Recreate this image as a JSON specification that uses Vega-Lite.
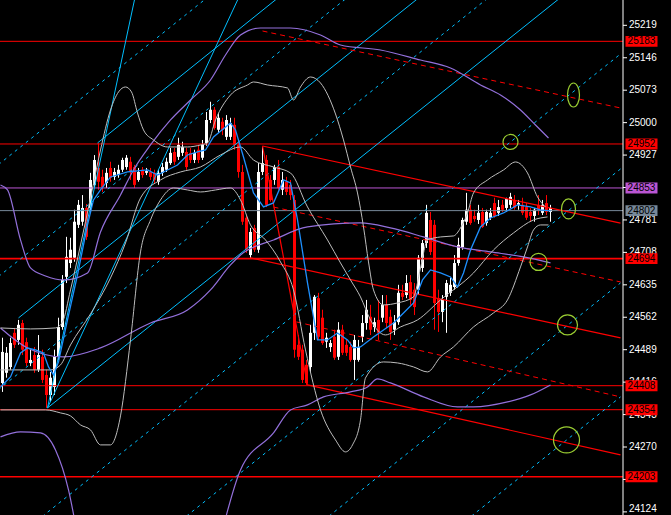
{
"$schema": "https://vega.github.io/schema/vega-lite/v6.json",
"width": 623, "height": 515, "padding": {"left": 0, "top": 0, "right": 48, "bottom": 0}, "autosize": {"type": "none"},
"background": "#000000",
"config": {"view": {"stroke": null}},
"datasets": {
"candles": [
{"k":0,"o":24414,"h":24516,"l":24394,"c":24484},{"k":1,"o":24437,"h":24495,"l":24426,"c":24482},{"k":2,"o":24450,"h":24516,"l":24444,"c":24504},{"k":3,"o":24527,"h":24538,"l":24493,"c":24500},{"k":4,"o":24511,"h":24556,"l":24500,"c":24545},{"k":5,"o":24549,"h":24556,"l":24477,"c":24489},{"k":6,"o":24506,"h":24516,"l":24452,"c":24459},{"k":7,"o":24459,"h":24489,"l":24452,"c":24466},{"k":8,"o":24477,"h":24495,"l":24437,"c":24444},{"k":9,"o":24444,"h":24522,"l":24439,"c":24477},
{"k":10,"o":24473,"h":24489,"l":24414,"c":24421},{"k":11,"o":24432,"h":24444,"l":24358,"c":24387},{"k":12,"o":24387,"h":24439,"l":24372,"c":24426},{"k":13,"o":24405,"h":24489,"l":24387,"c":24473},{"k":14,"o":24473,"h":24561,"l":24466,"c":24540},{"k":15,"o":24540,"h":24657,"l":24534,"c":24646},{"k":16,"o":24653,"h":24743,"l":24639,"c":24698},{"k":17,"o":24684,"h":24741,"l":24673,"c":24714},{"k":18,"o":24696,"h":24804,"l":24687,"c":24777},{"k":19,"o":24770,"h":24826,"l":24763,"c":24815},
{"k":20,"o":24777,"h":24837,"l":24768,"c":24808},{"k":21,"o":24808,"h":24817,"l":24736,"c":24743},{"k":22,"o":24808,"h":24887,"l":24799,"c":24871},{"k":23,"o":24860,"h":24927,"l":24853,"c":24916},{"k":24,"o":24898,"h":24954,"l":24849,"c":24867},{"k":25,"o":24878,"h":24894,"l":24844,"c":24855},{"k":26,"o":24864,"h":24898,"l":24853,"c":24887},{"k":27,"o":24898,"h":24912,"l":24867,"c":24876},{"k":28,"o":24878,"h":24898,"l":24871,"c":24889},{"k":29,"o":24882,"h":24905,"l":24876,"c":24894},
{"k":30,"o":24894,"h":24921,"l":24889,"c":24916},{"k":31,"o":24900,"h":24927,"l":24894,"c":24921},{"k":32,"o":24912,"h":24923,"l":24871,"c":24889},{"k":33,"o":24900,"h":24905,"l":24853,"c":24860},{"k":34,"o":24871,"h":24898,"l":24867,"c":24889},{"k":35,"o":24894,"h":24900,"l":24876,"c":24882},{"k":36,"o":24887,"h":24898,"l":24882,"c":24891},{"k":37,"o":24889,"h":24898,"l":24871,"c":24878},{"k":38,"o":24887,"h":24894,"l":24864,"c":24871},{"k":39,"o":24867,"h":24894,"l":24860,"c":24887},
{"k":40,"o":24887,"h":24909,"l":24880,"c":24900},{"k":41,"o":24894,"h":24921,"l":24889,"c":24912},{"k":42,"o":24909,"h":24943,"l":24905,"c":24932},{"k":43,"o":24934,"h":24943,"l":24905,"c":24912},{"k":44,"o":24923,"h":24966,"l":24916,"c":24950},{"k":45,"o":24932,"h":24957,"l":24925,"c":24945},{"k":46,"o":24934,"h":24943,"l":24894,"c":24900},{"k":47,"o":24932,"h":24943,"l":24909,"c":24916},{"k":48,"o":24916,"h":24939,"l":24909,"c":24932},{"k":49,"o":24939,"h":24950,"l":24909,"c":24916},
{"k":50,"o":24921,"h":24961,"l":24916,"c":24950},{"k":51,"o":24954,"h":25024,"l":24948,"c":25006},{"k":52,"o":25006,"h":25047,"l":24999,"c":25029},{"k":53,"o":25029,"h":25035,"l":24984,"c":24988},{"k":54,"o":24984,"h":25022,"l":24977,"c":25011},{"k":55,"o":25002,"h":25011,"l":24972,"c":24984},{"k":56,"o":24968,"h":25017,"l":24961,"c":25006},{"k":57,"o":24968,"h":25011,"l":24961,"c":24999},{"k":58,"o":24995,"h":25011,"l":24939,"c":24950},{"k":59,"o":24950,"h":24961,"l":24876,"c":24889},
{"k":60,"o":24889,"h":24905,"l":24770,"c":24777},{"k":61,"o":24786,"h":24792,"l":24707,"c":24714},{"k":62,"o":24702,"h":24763,"l":24696,"c":24754},{"k":63,"o":24763,"h":24770,"l":24709,"c":24714},{"k":64,"o":24714,"h":24909,"l":24707,"c":24889},{"k":65,"o":24889,"h":24945,"l":24882,"c":24909},{"k":66,"o":24916,"h":24927,"l":24810,"c":24815},{"k":67,"o":24871,"h":24882,"l":24822,"c":24826},{"k":68,"o":24871,"h":24905,"l":24860,"c":24900},{"k":69,"o":24900,"h":24916,"l":24849,"c":24853},
{"k":70,"o":24849,"h":24889,"l":24837,"c":24871},{"k":71,"o":24867,"h":24878,"l":24837,"c":24844},{"k":72,"o":24860,"h":24871,"l":24826,"c":24837},{"k":73,"o":24826,"h":24837,"l":24471,"c":24489},{"k":74,"o":24500,"h":24522,"l":24466,"c":24473},{"k":75,"o":24489,"h":24500,"l":24414,"c":24421},{"k":76,"o":24455,"h":24466,"l":24410,"c":24414},{"k":77,"o":24450,"h":24545,"l":24439,"c":24527},{"k":78,"o":24527,"h":24612,"l":24511,"c":24608},{"k":79,"o":24605,"h":24617,"l":24511,"c":24518},
{"k":80,"o":24561,"h":24579,"l":24500,"c":24504},{"k":81,"o":24507,"h":24527,"l":24493,"c":24516},{"k":82,"o":24495,"h":24511,"l":24484,"c":24504},{"k":83,"o":24518,"h":24534,"l":24466,"c":24471},{"k":84,"o":24473,"h":24551,"l":24466,"c":24534},{"k":85,"o":24534,"h":24545,"l":24477,"c":24482},{"k":86,"o":24500,"h":24511,"l":24475,"c":24482},{"k":87,"o":24495,"h":24507,"l":24462,"c":24466},{"k":88,"o":24466,"h":24522,"l":24421,"c":24511},{"k":89,"o":24466,"h":24511,"l":24462,"c":24495},
{"k":90,"o":24518,"h":24567,"l":24506,"c":24549},{"k":91,"o":24549,"h":24601,"l":24534,"c":24579},{"k":92,"o":24563,"h":24590,"l":24522,"c":24534},{"k":93,"o":24540,"h":24561,"l":24529,"c":24551},{"k":94,"o":24556,"h":24601,"l":24511,"c":24527},{"k":95,"o":24561,"h":24612,"l":24551,"c":24590},{"k":96,"o":24590,"h":24612,"l":24538,"c":24549},{"k":97,"o":24563,"h":24579,"l":24511,"c":24529},{"k":98,"o":24534,"h":24567,"l":24522,"c":24551},{"k":99,"o":24551,"h":24635,"l":24545,"c":24617},
{"k":100,"o":24617,"h":24635,"l":24601,"c":24608},{"k":101,"o":24612,"h":24657,"l":24605,"c":24639},{"k":102,"o":24641,"h":24657,"l":24590,"c":24601},{"k":103,"o":24624,"h":24639,"l":24567,"c":24585},{"k":104,"o":24624,"h":24702,"l":24612,"c":24696},{"k":105,"o":24673,"h":24736,"l":24664,"c":24729},{"k":106,"o":24729,"h":24815,"l":24718,"c":24797},{"k":107,"o":24781,"h":24799,"l":24702,"c":24709},{"k":108,"o":24770,"h":24781,"l":24534,"c":24594},{"k":109,"o":24605,"h":24624,"l":24529,"c":24574},
{"k":110,"o":24574,"h":24612,"l":24551,"c":24601},{"k":111,"o":24608,"h":24646,"l":24527,"c":24639},{"k":112,"o":24617,"h":24651,"l":24610,"c":24635},{"k":113,"o":24630,"h":24702,"l":24624,"c":24684},{"k":114,"o":24684,"h":24741,"l":24678,"c":24725},{"k":115,"o":24720,"h":24786,"l":24714,"c":24781},{"k":116,"o":24777,"h":24842,"l":24770,"c":24804},{"k":117,"o":24804,"h":24815,"l":24770,"c":24774},{"k":118,"o":24790,"h":24804,"l":24777,"c":24783},{"k":119,"o":24781,"h":24815,"l":24772,"c":24797},
{"k":120,"o":24799,"h":24808,"l":24763,"c":24765},{"k":121,"o":24774,"h":24804,"l":24768,"c":24799},{"k":122,"o":24786,"h":24808,"l":24781,"c":24797},{"k":123,"o":24819,"h":24831,"l":24786,"c":24790},{"k":124,"o":24797,"h":24826,"l":24790,"c":24810},{"k":125,"o":24815,"h":24826,"l":24799,"c":24804},{"k":126,"o":24808,"h":24831,"l":24799,"c":24828},{"k":127,"o":24815,"h":24842,"l":24808,"c":24833},{"k":128,"o":24826,"h":24837,"l":24804,"c":24808},{"k":129,"o":24815,"h":24826,"l":24804,"c":24819},
{"k":130,"o":24815,"h":24831,"l":24792,"c":24797},{"k":131,"o":24810,"h":24819,"l":24781,"c":24786},{"k":132,"o":24799,"h":24808,"l":24777,"c":24790},{"k":133,"o":24790,"h":24808,"l":24777,"c":24804},{"k":134,"o":24815,"h":24837,"l":24792,"c":24804},{"k":135,"o":24797,"h":24826,"l":24792,"c":24815},{"k":136,"o":24819,"h":24837,"l":24792,"c":24799},{"k":137,"o":24799,"h":24815,"l":24777,"c":24808}
],
"hlRed": [{"k":-1,"k2":155.125,"p":25183},{"k":-1,"k2":155.125,"p":24952},{"k":-1,"k2":155.125,"p":24408},{"k":-1,"k2":155.125,"p":24354}],
"hlRedThick": [{"k":-1,"k2":155.125,"p":24694},{"k":-1,"k2":155.125,"p":24203}],
"hlPurple": [{"k":-1,"k2":155.125,"p":24853}],
"hlGray": [{"k":-1,"k2":155.125,"p":24802}],
"axisLine": [{"k":155.125,"p":24117,"p2":25276}],
"ticks": [
{"k":155.125,"k2":156.125,"p":25219},{"k":155.125,"k2":156.125,"p":25146},{"k":155.125,"k2":156.125,"p":25073},{"k":155.125,"k2":156.125,"p":25000},{"k":155.125,"k2":156.125,"p":24927},{"k":155.125,"k2":156.125,"p":24854},{"k":155.125,"k2":156.125,"p":24781},{"k":155.125,"k2":156.125,"p":24708},
{"k":155.125,"k2":156.125,"p":24635},{"k":155.125,"k2":156.125,"p":24562},{"k":155.125,"k2":156.125,"p":24489},{"k":155.125,"k2":156.125,"p":24416},{"k":155.125,"k2":156.125,"p":24343},{"k":155.125,"k2":156.125,"p":24270},{"k":155.125,"k2":156.125,"p":24197},{"k":155.125,"k2":156.125,"p":24124}
],
"tickLabels": [
{"k":156.6,"p":25219,"t":"25219"},{"k":156.6,"p":25146,"t":"25146"},{"k":156.6,"p":25073,"t":"25073"},{"k":156.6,"p":25000,"t":"25000"},{"k":156.6,"p":24927,"t":"24927"},{"k":156.6,"p":24854,"t":"24854"},{"k":156.6,"p":24781,"t":"24781"},{"k":156.6,"p":24708,"t":"24708"},
{"k":156.6,"p":24635,"t":"24635"},{"k":156.6,"p":24562,"t":"24562"},{"k":156.6,"p":24489,"t":"24489"},{"k":156.6,"p":24416,"t":"24416"},{"k":156.6,"p":24343,"t":"24343"},{"k":156.6,"p":24270,"t":"24270"},{"k":156.6,"p":24197,"t":"24197"}
],
"tickLabelLast": [{"k":156.6,"p":24124,"t":"24124"}],
"lbRed": [{"k":159.75,"p":25183,"t":"25183"},{"k":159.75,"p":24952,"t":"24952"},{"k":159.75,"p":24694,"t":"24694"},{"k":159.75,"p":24408,"t":"24408"},{"k":159.75,"p":24354,"t":"24354"},{"k":159.75,"p":24203,"t":"24203"}],
"lbPurple": [{"k":159.75,"p":24853,"t":"24853"}],
"lbGray": [{"k":159.75,"p":24802,"t":"24802"}],
"cyanSolid": [
{"id":"f1","k":11.25,"p":24358},{"id":"f1","k":35.65,"p":25388.5},
{"id":"f2","k":11.25,"p":24358},{"id":"f2","k":64.6,"p":25388.5},
{"id":"c1","k":11.25,"p":24358},{"id":"c1","k":154.5,"p":25389.4},
{"id":"c2","k":4,"p":24560.5},{"id":"c2","k":119,"p":25388.5},
{"id":"c3","k":23.75,"p":24954.25},{"id":"c3","k":83.75,"p":25388.5}
],
"cyanDash": [
{"id":"d1","k":-1,"p":24905.65},{"id":"d1","k":66.06,"p":25388.5},
{"id":"d2","k":-1,"p":24653.65},{"id":"d2","k":101.06,"p":25388.5},
{"id":"d3","k":-1,"p":24399.4},{"id":"d3","k":136.375,"p":25388.5},
{"id":"d4","k":-1,"p":24034.9},{"id":"d4","k":154.5,"p":25154.5},
{"id":"d5","k":32.31,"p":24016},{"id":"d5","k":154.5,"p":24895.75},
{"id":"d6","k":67.94,"p":24016},{"id":"d6","k":154.5,"p":24639.25},
{"id":"d7","k":103.56,"p":24016},{"id":"d7","k":154.5,"p":24382.75}
],
"redSolid": [
{"id":"r1","k":65,"p":24947.5},{"id":"r1","k":154.5,"p":24774},
{"id":"r3","k":62,"p":24695.5},{"id":"r3","k":154.5,"p":24515.5},
{"id":"r5","k":76.25,"p":24409.75},{"id":"r5","k":154.5,"p":24252.25},
{"id":"rs","k":65,"p":24947.5},{"id":"rs","k":76.25,"p":24409.75}
],
"redDash": [
{"id":"r0","k":65,"p":25206.25},{"id":"r0","k":154.5,"p":25033},
{"id":"r2","k":67.75,"p":24810},{"id":"r2","k":154.5,"p":24641.5},
{"id":"r4","k":73.5,"p":24551.5},{"id":"r4","k":154.5,"p":24382.75}
],
"purple": [
{"id":"pu","k":-0.5,"p":24859.75},{"id":"pu","k":1.25,"p":24848.5},{"id":"pu","k":4.5,"p":24736},{"id":"pu","k":7,"p":24673},{"id":"pu","k":10.75,"p":24655},{"id":"pu","k":15.25,"p":24646},{"id":"pu","k":21.25,"p":24661.75},{"id":"pu","k":24.5,"p":24754},{"id":"pu","k":29.5,"p":24837.25},{"id":"pu","k":32.75,"p":24893.5},{"id":"pu","k":37,"p":24949.75},{"id":"pu","k":42,"p":25006},{"id":"pu","k":47,"p":25051},{"id":"pu","k":52,"p":25096},{"id":"pu","k":55.75,"p":25152.25},{"id":"pu","k":59.5,"p":25197.25},{"id":"pu","k":64.5,"p":25213},{"id":"pu","k":72,"p":25213},{"id":"pu","k":79.5,"p":25197.25},{"id":"pu","k":84.5,"p":25174.75},{"id":"pu","k":94.5,"p":25163.5},{"id":"pu","k":104.5,"p":25141},{"id":"pu","k":112,"p":25123},{"id":"pu","k":119.5,"p":25084.75},{"id":"pu","k":124.5,"p":25062.25},{"id":"pu","k":129.5,"p":25028.5},{"id":"pu","k":133.25,"p":24994.75},{"id":"pu","k":136.5,"p":24965.5},
{"id":"pm","k":-0.5,"p":24538},{"id":"pm","k":6.25,"p":24493},{"id":"pm","k":15.25,"p":24472.75},{"id":"pm","k":24.5,"p":24493},{"id":"pm","k":37,"p":24549.25},{"id":"pm","k":46.25,"p":24578.5},{"id":"pm","k":52,"p":24623.5},{"id":"pm","k":57,"p":24679.75},{"id":"pm","k":59.5,"p":24702.25},{"id":"pm","k":67.75,"p":24736},{"id":"pm","k":76.25,"p":24765.25},{"id":"pm","k":89.5,"p":24774.25},{"id":"pm","k":97,"p":24763},{"id":"pm","k":105.25,"p":24742.75},{"id":"pm","k":113.75,"p":24720.25},{"id":"pm","k":122,"p":24709},{"id":"pm","k":130.25,"p":24697.75},{"id":"pm","k":137,"p":24684.25},
{"id":"pl1","k":-0.5,"p":24292.75},{"id":"pl1","k":4.5,"p":24304},{"id":"pl1","k":9.5,"p":24301.75},{"id":"pl1","k":13.25,"p":24263.5},{"id":"pl1","k":16.5,"p":24173.5},{"id":"pl1","k":18.5,"p":24083.5},
{"id":"pl2","k":55,"p":24083.5},{"id":"pl2","k":59.5,"p":24218.5},{"id":"pl2","k":67.75,"p":24301.75},{"id":"pl2","k":72,"p":24353.5},{"id":"pl2","k":76.25,"p":24364.75},{"id":"pl2","k":80.25,"p":24382.75},{"id":"pl2","k":87,"p":24394},{"id":"pl2","k":91.25,"p":24405.25},{"id":"pl2","k":93.75,"p":24423.25},{"id":"pl2","k":97,"p":24414.25},{"id":"pl2","k":105.25,"p":24382.75},{"id":"pl2","k":113.75,"p":24360.25},{"id":"pl2","k":117.75,"p":24360.25},{"id":"pl2","k":126.25,"p":24371.5},{"id":"pl2","k":132,"p":24387.25},{"id":"pl2","k":137,"p":24409.75}
],
"gray": [
{"id":"gu","k":-0.5,"p":24538},{"id":"gu","k":7,"p":24535.75},{"id":"gu","k":13.25,"p":24538},{"id":"gu","k":15,"p":24551.5},{"id":"gu","k":17,"p":24623.5},{"id":"gu","k":19.5,"p":24724.75},{"id":"gu","k":22,"p":24830.5},{"id":"gu","k":24.5,"p":24938.5},{"id":"gu","k":27,"p":25028.5},{"id":"gu","k":29,"p":25069},{"id":"gu","k":30.75,"p":25080.25},{"id":"gu","k":32.25,"p":25069},{"id":"gu","k":33.75,"p":25021.75},{"id":"gu","k":35.25,"p":24983.5},{"id":"gu","k":37.75,"p":24961},{"id":"gu","k":41.25,"p":24945.25},{"id":"gu","k":46.25,"p":24945.25},{"id":"gu","k":49.5,"p":24949.75},{"id":"gu","k":51.25,"p":24954.25},{"id":"gu","k":53.25,"p":25006},{"id":"gu","k":57,"p":25062.25},{"id":"gu","k":61.25,"p":25084.75},{"id":"gu","k":62.75,"p":25091.5},{"id":"gu","k":66.25,"p":25084.75},{"id":"gu","k":71.25,"p":25078},{"id":"gu","k":72.75,"p":25051},{"id":"gu","k":74.5,"p":25080.25},{"id":"gu","k":77,"p":25102.75},{"id":"gu","k":79.5,"p":25089.25},{"id":"gu","k":83.25,"p":25019.5},{"id":"gu","k":85.25,"p":24961},{"id":"gu","k":87,"p":24900.25},{"id":"gu","k":88.75,"p":24841.75},{"id":"gu","k":90.25,"p":24765.25},{"id":"gu","k":91.5,"p":24686.5},{"id":"gu","k":92.75,"p":24623.5},{"id":"gu","k":95.25,"p":24589.75},{"id":"gu","k":98.75,"p":24594.25},{"id":"gu","k":102.75,"p":24607.75},{"id":"gu","k":104.5,"p":24673},{"id":"gu","k":106.25,"p":24736},{"id":"gu","k":109.5,"p":24742.75},{"id":"gu","k":112.75,"p":24745},{"id":"gu","k":114.5,"p":24763},{"id":"gu","k":116.25,"p":24796.75},{"id":"gu","k":117.75,"p":24841.75},{"id":"gu","k":121.25,"p":24871},{"id":"gu","k":125.25,"p":24893.5},{"id":"gu","k":128.25,"p":24911.5},{"id":"gu","k":131.25,"p":24886.75},{"id":"gu","k":133.75,"p":24832.75},{"id":"gu","k":135.75,"p":24810.25},
{"id":"gm","k":-0.5,"p":24443.5},{"id":"gm","k":12,"p":24443.5},{"id":"gm","k":14.5,"p":24454.75},{"id":"gm","k":17,"p":24499.75},{"id":"gm","k":22,"p":24569.5},{"id":"gm","k":27,"p":24650.5},{"id":"gm","k":30.75,"p":24729.25},{"id":"gm","k":34.5,"p":24830.5},{"id":"gm","k":39.5,"p":24871},{"id":"gm","k":44.5,"p":24889},{"id":"gm","k":49.5,"p":24900.25},{"id":"gm","k":54.5,"p":24927.25},{"id":"gm","k":59.5,"p":24945.25},{"id":"gm","k":62.75,"p":24916},{"id":"gm","k":67.75,"p":24900.25},{"id":"gm","k":72,"p":24886.75},{"id":"gm","k":76.25,"p":24810.25},{"id":"gm","k":81.25,"p":24736},{"id":"gm","k":84.5,"p":24684.25},{"id":"gm","k":87,"p":24646},{"id":"gm","k":89.5,"p":24607.75},{"id":"gm","k":92,"p":24556},{"id":"gm","k":95.75,"p":24522.25},{"id":"gm","k":99.5,"p":24540.25},{"id":"gm","k":103.75,"p":24556},{"id":"gm","k":109.5,"p":24601},{"id":"gm","k":117.75,"p":24661.75},{"id":"gm","k":122.75,"p":24713.5},{"id":"gm","k":127.75,"p":24751.75},{"id":"gm","k":132.75,"p":24781},{"id":"gm","k":136.25,"p":24787.75},
{"id":"gl","k":-0.5,"p":24353.5},{"id":"gl","k":10.75,"p":24353.5},{"id":"gl","k":14.5,"p":24346.75},{"id":"gl","k":17,"p":24340},{"id":"gl","k":19.5,"p":24319.75},{"id":"gl","k":22,"p":24308.5},{"id":"gl","k":24.5,"p":24274.75},{"id":"gl","k":27,"p":24274.75},{"id":"gl","k":29.5,"p":24340},{"id":"gl","k":32,"p":24511},{"id":"gl","k":34.5,"p":24709},{"id":"gl","k":37,"p":24781},{"id":"gl","k":39.5,"p":24826},{"id":"gl","k":42.75,"p":24853},{"id":"gl","k":46.25,"p":24848.5},{"id":"gl","k":49.5,"p":24844},{"id":"gl","k":53.25,"p":24848.5},{"id":"gl","k":57,"p":24853},{"id":"gl","k":59.5,"p":24826},{"id":"gl","k":62,"p":24769.75},{"id":"gl","k":65.75,"p":24736},{"id":"gl","k":69.5,"p":24686.5},{"id":"gl","k":72.75,"p":24623.5},{"id":"gl","k":75.75,"p":24488.5},{"id":"gl","k":79.5,"p":24353.5},{"id":"gl","k":83.25,"p":24286},{"id":"gl","k":85.75,"p":24259},{"id":"gl","k":87.5,"p":24274.75},{"id":"gl","k":89.5,"p":24331},{"id":"gl","k":90.75,"p":24425.5},{"id":"gl","k":95.25,"p":24461.5},{"id":"gl","k":98.75,"p":24459.25},{"id":"gl","k":102.75,"p":24450.25},{"id":"gl","k":106.25,"p":24439},{"id":"gl","k":109.5,"p":24472.75},{"id":"gl","k":112.75,"p":24495.25},{"id":"gl","k":117.75,"p":24540.25},{"id":"gl","k":122.75,"p":24571.75},{"id":"gl","k":126.25,"p":24601},{"id":"gl","k":129.5,"p":24675.25},{"id":"gl","k":131.25,"p":24720.25},{"id":"gl","k":132.75,"p":24758.5},{"id":"gl","k":134.5,"p":24769.75},{"id":"gl","k":136.5,"p":24769.75}
],
"ma": [
{"k":-0.5,"p":24405.25},{"k":2,"p":24427.75},{"k":4.5,"p":24481.75},{"k":6.25,"p":24493},{"k":8.25,"p":24488.5},{"k":10.25,"p":24481.75},{"k":11.5,"p":24450.25},{"k":12.75,"p":24432.25},{"k":14,"p":24461.5},{"k":16.25,"p":24556},{"k":18.75,"p":24657.25},{"k":21.25,"p":24769.75},{"k":22.75,"p":24826},{"k":24.5,"p":24848.5},{"k":27,"p":24877.75},{"k":31.25,"p":24889},{"k":36.25,"p":24893.5},{"k":38.75,"p":24882.25},{"k":41.25,"p":24893.5},{"k":43.75,"p":24904.75},{"k":46.25,"p":24927.25},{"k":48.75,"p":24934},{"k":50.75,"p":24938.5},{"k":52.75,"p":24967.75},{"k":57,"p":24999.25},{"k":58.25,"p":24983.5},{"k":60.25,"p":24922.75},{"k":62.75,"p":24841.75},{"k":65.25,"p":24810.25},{"k":67.75,"p":24819.25},{"k":70.25,"p":24871},{"k":72,"p":24864.25},{"k":73.75,"p":24781},{"k":76.25,"p":24639.25},{"k":78.75,"p":24511},{"k":81.25,"p":24511},{"k":83.75,"p":24526.75},{"k":86.25,"p":24511},{"k":87.75,"p":24493},{"k":89.5,"p":24495.25},{"k":92.75,"p":24517.75},{"k":95.25,"p":24533.5},{"k":97.75,"p":24549.25},{"k":100.25,"p":24571.75},{"k":102.75,"p":24594.25},{"k":105,"p":24646},{"k":107,"p":24668.5},{"k":109.5,"p":24661.75},{"k":112,"p":24652.75},{"k":113.75,"p":24630.25},{"k":115.25,"p":24661.75},{"k":117,"p":24713.5},{"k":119.5,"p":24765.25},{"k":122,"p":24785.5},{"k":125.25,"p":24796.75},{"k":128.75,"p":24814.75},{"k":132,"p":24810.25},{"k":134.5,"p":24803.5},{"k":137,"p":24801.25}
]
},
"encoding": {
"x": {"field": "k", "type": "quantitative", "scale": {"domain": [-0.625, 155.125], "nice": false, "zero": false, "padding": 0}, "axis": null},
"y": {"field": "p", "type": "quantitative", "scale": {"domain": [24117, 25276], "nice": false, "zero": false, "padding": 0}, "axis": null}
},
"layer": [
{"data": {"name": "candles"}, "mark": {"type": "rule", "strokeWidth": 1},
 "encoding": {"y": {"field": "l", "type": "quantitative", "scale": {"domain": [24117, 25276], "nice": false, "zero": false, "padding": 0}, "axis": null}, "y2": {"field": "h"},
  "color": {"condition": {"test": "datum.c < datum.o", "value": "#ff0000"}, "value": "#ffffff"}}},
{"data": {"name": "candles"}, "mark": {"type": "bar", "size": 3},
 "encoding": {"y": {"field": "o", "type": "quantitative", "scale": {"domain": [24117, 25276], "nice": false, "zero": false, "padding": 0}, "axis": null}, "y2": {"field": "c"},
  "color": {"condition": {"test": "datum.c < datum.o", "value": "#ff0000"}, "value": "#ffffff"}}},
{"data": {"name": "hlRed"}, "mark": {"type": "rule", "color": "#ff0000", "strokeWidth": 1}, "encoding": {"x2": {"field": "k2"}}},
{"data": {"name": "hlRedThick"}, "mark": {"type": "rule", "color": "#ff0000", "strokeWidth": 1.6}, "encoding": {"x2": {"field": "k2"}}},
{"data": {"name": "hlPurple"}, "mark": {"type": "rule", "color": "#ba55d3", "strokeWidth": 1}, "encoding": {"x2": {"field": "k2"}}},
{"data": {"name": "hlGray"}, "mark": {"type": "rule", "color": "#778899", "strokeWidth": 1}, "encoding": {"x2": {"field": "k2"}}},
{"data": {"name": "cyanSolid"}, "mark": {"type": "line", "color": "#00bfff", "strokeWidth": 1, "clip": true}, "encoding": {"detail": {"field": "id"}}},
{"data": {"name": "cyanDash"}, "mark": {"type": "line", "color": "#00bfff", "strokeWidth": 1, "strokeDash": [3, 4], "clip": true}, "encoding": {"detail": {"field": "id"}}},
{"data": {"name": "redSolid"}, "mark": {"type": "line", "color": "#ff0000", "strokeWidth": 1.2, "clip": true}, "encoding": {"detail": {"field": "id"}}},
{"data": {"name": "redDash"}, "mark": {"type": "line", "color": "#ff0000", "strokeWidth": 1, "strokeDash": [5, 4], "clip": true}, "encoding": {"detail": {"field": "id"}}},
{"data": {"name": "purple"}, "mark": {"type": "line", "color": "#9370db", "strokeWidth": 1.2, "clip": true, "interpolate": "monotone"}, "encoding": {"detail": {"field": "id"}}},
{"data": {"name": "gray"}, "mark": {"type": "line", "color": "#bdbdbd", "strokeWidth": 1, "clip": true, "interpolate": "monotone"}, "encoding": {"detail": {"field": "id"}}},
{"data": {"name": "ma"}, "mark": {"type": "line", "color": "#1e90ff", "strokeWidth": 1.3, "clip": true}},
{"data": {"values": [{"k": 142.75, "p": 25062.25}]}, "mark": {"type": "point", "shape": "M0,-1A0.5,1 0 1,1 0,1A0.5,1 0 1,1 0,-1Z", "size": 576, "filled": false, "stroke": "#9acd32", "strokeWidth": 1.2, "opacity": 1}},
{"data": {"values": [{"k": 127, "p": 24956.5}]}, "mark": {"type": "point", "shape": "circle", "size": 225, "filled": false, "stroke": "#9acd32", "strokeWidth": 1.2, "opacity": 1}},
{"data": {"values": [{"k": 141.5, "p": 24805.75}]}, "mark": {"type": "point", "shape": "M0,-1A0.7,1 0 1,1 0,1A0.7,1 0 1,1 0,-1Z", "size": 400, "filled": false, "stroke": "#9acd32", "strokeWidth": 1.2, "opacity": 1}},
{"data": {"values": [{"k": 134, "p": 24686.5}]}, "mark": {"type": "point", "shape": "circle", "size": 289, "filled": false, "stroke": "#9acd32", "strokeWidth": 1.2, "opacity": 1}},
{"data": {"values": [{"k": 141.25, "p": 24544.75}]}, "mark": {"type": "point", "shape": "circle", "size": 400, "filled": false, "stroke": "#9acd32", "strokeWidth": 1.2, "opacity": 1}},
{"data": {"values": [{"k": 141, "p": 24286}]}, "mark": {"type": "point", "shape": "circle", "size": 676, "filled": false, "stroke": "#9acd32", "strokeWidth": 1.2, "opacity": 1}},
{"data": {"name": "axisLine"}, "mark": {"type": "rule", "color": "#ffffff", "strokeWidth": 1}, "encoding": {"y2": {"field": "p2"}}},
{"data": {"name": "ticks"}, "mark": {"type": "rule", "color": "#ffffff", "strokeWidth": 1}, "encoding": {"x2": {"field": "k2"}}},
{"data": {"name": "tickLabels"}, "mark": {"type": "text", "color": "#ffffff", "font": "Liberation Sans", "fontSize": 10, "align": "left", "baseline": "middle"}, "encoding": {"text": {"field": "t"}}},
{"data": {"name": "tickLabelLast"}, "mark": {"type": "text", "color": "#ffffff", "font": "Liberation Sans", "fontSize": 10, "align": "left", "baseline": "middle", "dy": -3}, "encoding": {"text": {"field": "t"}}},
{"data": {"name": "lbRed"}, "mark": {"type": "point", "shape": "M-1,-0.34H1V0.34H-1Z", "size": 1024, "filled": true, "color": "#ff0000", "opacity": 1}},
{"data": {"name": "lbPurple"}, "mark": {"type": "point", "shape": "M-1,-0.34H1V0.34H-1Z", "size": 1024, "filled": true, "color": "#ba55d3", "opacity": 1}},
{"data": {"name": "lbGray"}, "mark": {"type": "point", "shape": "M-1,-0.34H1V0.34H-1Z", "size": 1024, "filled": true, "color": "#778899", "opacity": 1}},
{"data": {"name": "lbRed"}, "mark": {"type": "text", "color": "#000000", "font": "Liberation Sans", "fontSize": 10, "align": "center", "baseline": "middle"}, "encoding": {"text": {"field": "t"}}},
{"data": {"name": "lbPurple"}, "mark": {"type": "text", "color": "#000000", "font": "Liberation Sans", "fontSize": 10, "align": "center", "baseline": "middle"}, "encoding": {"text": {"field": "t"}}},
{"data": {"name": "lbGray"}, "mark": {"type": "text", "color": "#000000", "font": "Liberation Sans", "fontSize": 10, "align": "center", "baseline": "middle"}, "encoding": {"text": {"field": "t"}}}
]
}
